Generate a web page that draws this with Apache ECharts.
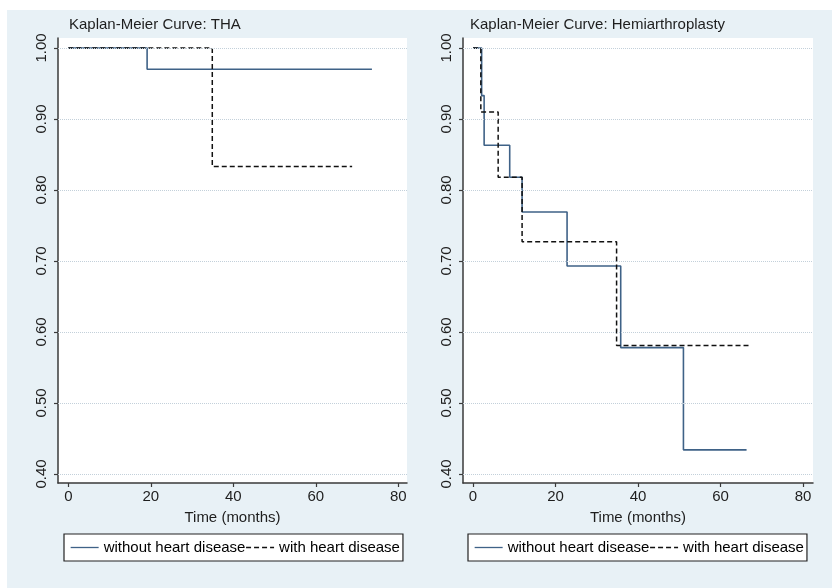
<!DOCTYPE html>
<html>
<head>
<meta charset="utf-8">
<script src="https://cdn.jsdelivr.net/npm/echarts@6/dist/echarts.min.js"></script>
<style>
html,body{margin:0;padding:0;background:#fff;}
#chart{width:832px;height:588px;}
</style>
</head>
<body>
<div id="chart"></div>
<script>
// ---- Data ----
var seriesNames = ['without heart disease', 'with heart disease'];
var panelTitles = ['Kaplan-Meier Curve: THA', 'Kaplan-Meier Curve: Hemiarthroplasty'];
var xTicks = [0, 20, 40, 60, 80];
var yTicks = [0.4, 0.5, 0.6, 0.7, 0.8, 0.9, 1.0];
var xAxisTitle = 'Time (months)';

// THA panel: [time, survival]
var thaWithout = [[0, 1.0], [19.1, 0.970], [73.6, 0.970]];
var thaWith = [[0, 1.0], [34.9, 0.833], [68.8, 0.833]];
// Hemiarthroplasty panel
var hemiWithout = [[0, 1.0], [2.1, 0.933], [2.7, 0.863], [8.9, 0.818], [11.9, 0.769], [22.8, 0.693], [35.8, 0.578], [51.0, 0.434], [66.3, 0.434]];
var hemiWith = [[0, 1.0], [1.9, 0.910], [6.1, 0.818], [11.9, 0.727], [34.8, 0.581], [67.1, 0.581]];

var FONT = '"Liberation Sans", Arial, sans-serif';
var TXT = '#1e1e1e';
var AX = '#3a3a3a';
var SOLID = '#3f6287';

var chart = echarts.init(document.getElementById('chart'), null, {renderer: 'canvas'});

function xAxisDef(gi, min, max) {
  return {
    type: 'value', gridIndex: gi, min: min, max: max,
    name: xAxisTitle, nameLocation: 'middle', nameGap: 27,
    nameTextStyle: {fontSize: 15, color: TXT, fontFamily: FONT},
    axisLine: {show: true, onZero: false, lineStyle: {color: AX, width: 1.5}},
    axisTick: {show: true, length: 4, customValues: xTicks, lineStyle: {color: AX, width: 1.2}},
    axisLabel: {customValues: xTicks, fontSize: 15, color: TXT, fontFamily: FONT, margin: 6},
    splitLine: {show: false}
  };
}
function yAxisDef(gi) {
  return {
    type: 'value', gridIndex: gi, min: 0.3873, max: 1.0141,
    axisLine: {show: true, onZero: false, lineStyle: {color: AX, width: 1.5}},
    axisTick: {show: true, length: 4, customValues: yTicks, lineStyle: {color: AX, width: 1.2}},
    axisLabel: {customValues: yTicks, rotate: 90, fontSize: 15, color: TXT, fontFamily: FONT, margin: 9,
      formatter: function (v) { return v.toFixed(2); }},
    splitLine: {show: false}
  };
}
function gridLines() {
  return {
    silent: true, symbol: 'none', animation: false,
    label: {show: false},
    lineStyle: {type: 'dotted', color: '#c3d0da', width: 1},
    data: yTicks.map(function (v) { return {yAxis: v}; })
  };
}
function solidSeries(gi, data, withGrid) {
  var s = {
    name: seriesNames[0], type: 'line', step: 'end', xAxisIndex: gi, yAxisIndex: gi,
    data: data, symbol: 'none', showSymbol: false, animation: false, z: 3,
    lineStyle: {color: SOLID, width: 1.6, type: 'solid'}, itemStyle: {color: SOLID}
  };
  if (withGrid) s.markLine = gridLines();
  return s;
}
function dashedSeries(gi, data) {
  return {
    name: seriesNames[1], type: 'line', step: 'end', xAxisIndex: gi, yAxisIndex: gi,
    data: data, symbol: 'none', showSymbol: false, animation: false, z: 4,
    lineStyle: {color: '#111', width: 1.5, type: [5, 3]}, itemStyle: {color: '#111'}
  };
}
function legendDef(left) {
  return {
    show: true,
    left: left, top: 534, orient: 'horizontal',
    itemWidth: 28, itemHeight: 14, itemGap: 0,
    padding: [6, 3, 6, 6],
    itemStyle: {opacity: 0, borderWidth: 0},
    lineStyle: {width: 1.3},
    backgroundColor: '#fff', borderColor: '#222', borderWidth: 1.2, borderRadius: 0,
    textStyle: {fontSize: 15, color: '#000', fontFamily: FONT}
  };
}

var option = {
  backgroundColor: '#fff',
  animation: false,
  graphic: [{
    type: 'rect', left: 7, top: 10, z: -10,
    shape: {width: 825, height: 578},
    style: {fill: '#e8f1f6'}
  }],
  title: [
    {text: panelTitles[0], left: 69, top: 17, padding: 0,
      textStyle: {fontSize: 15, fontWeight: 'normal', color: TXT, fontFamily: FONT}},
    {text: panelTitles[1], left: 470, top: 17, padding: 0,
      textStyle: {fontSize: 15, fontWeight: 'normal', color: TXT, fontFamily: FONT}}
  ],
  legend: [legendDef(64), legendDef(468)],
  grid: [
    {left: 58, top: 38, width: 349, height: 445, show: true, backgroundColor: '#fff', borderWidth: 0, containLabel: false},
    {left: 463, top: 38, width: 350, height: 445, show: true, backgroundColor: '#fff', borderWidth: 0, containLabel: false}
  ],
  xAxis: [xAxisDef(0, -2.5, 82.1), xAxisDef(1, -2.42, 82.4)],
  yAxis: [yAxisDef(0), yAxisDef(1)],
  series: [
    solidSeries(0, thaWithout, true),
    dashedSeries(0, thaWith),
    solidSeries(1, hemiWithout, true),
    dashedSeries(1, hemiWith)
  ]
};
chart.setOption(option);
</script>
</body>
</html>
